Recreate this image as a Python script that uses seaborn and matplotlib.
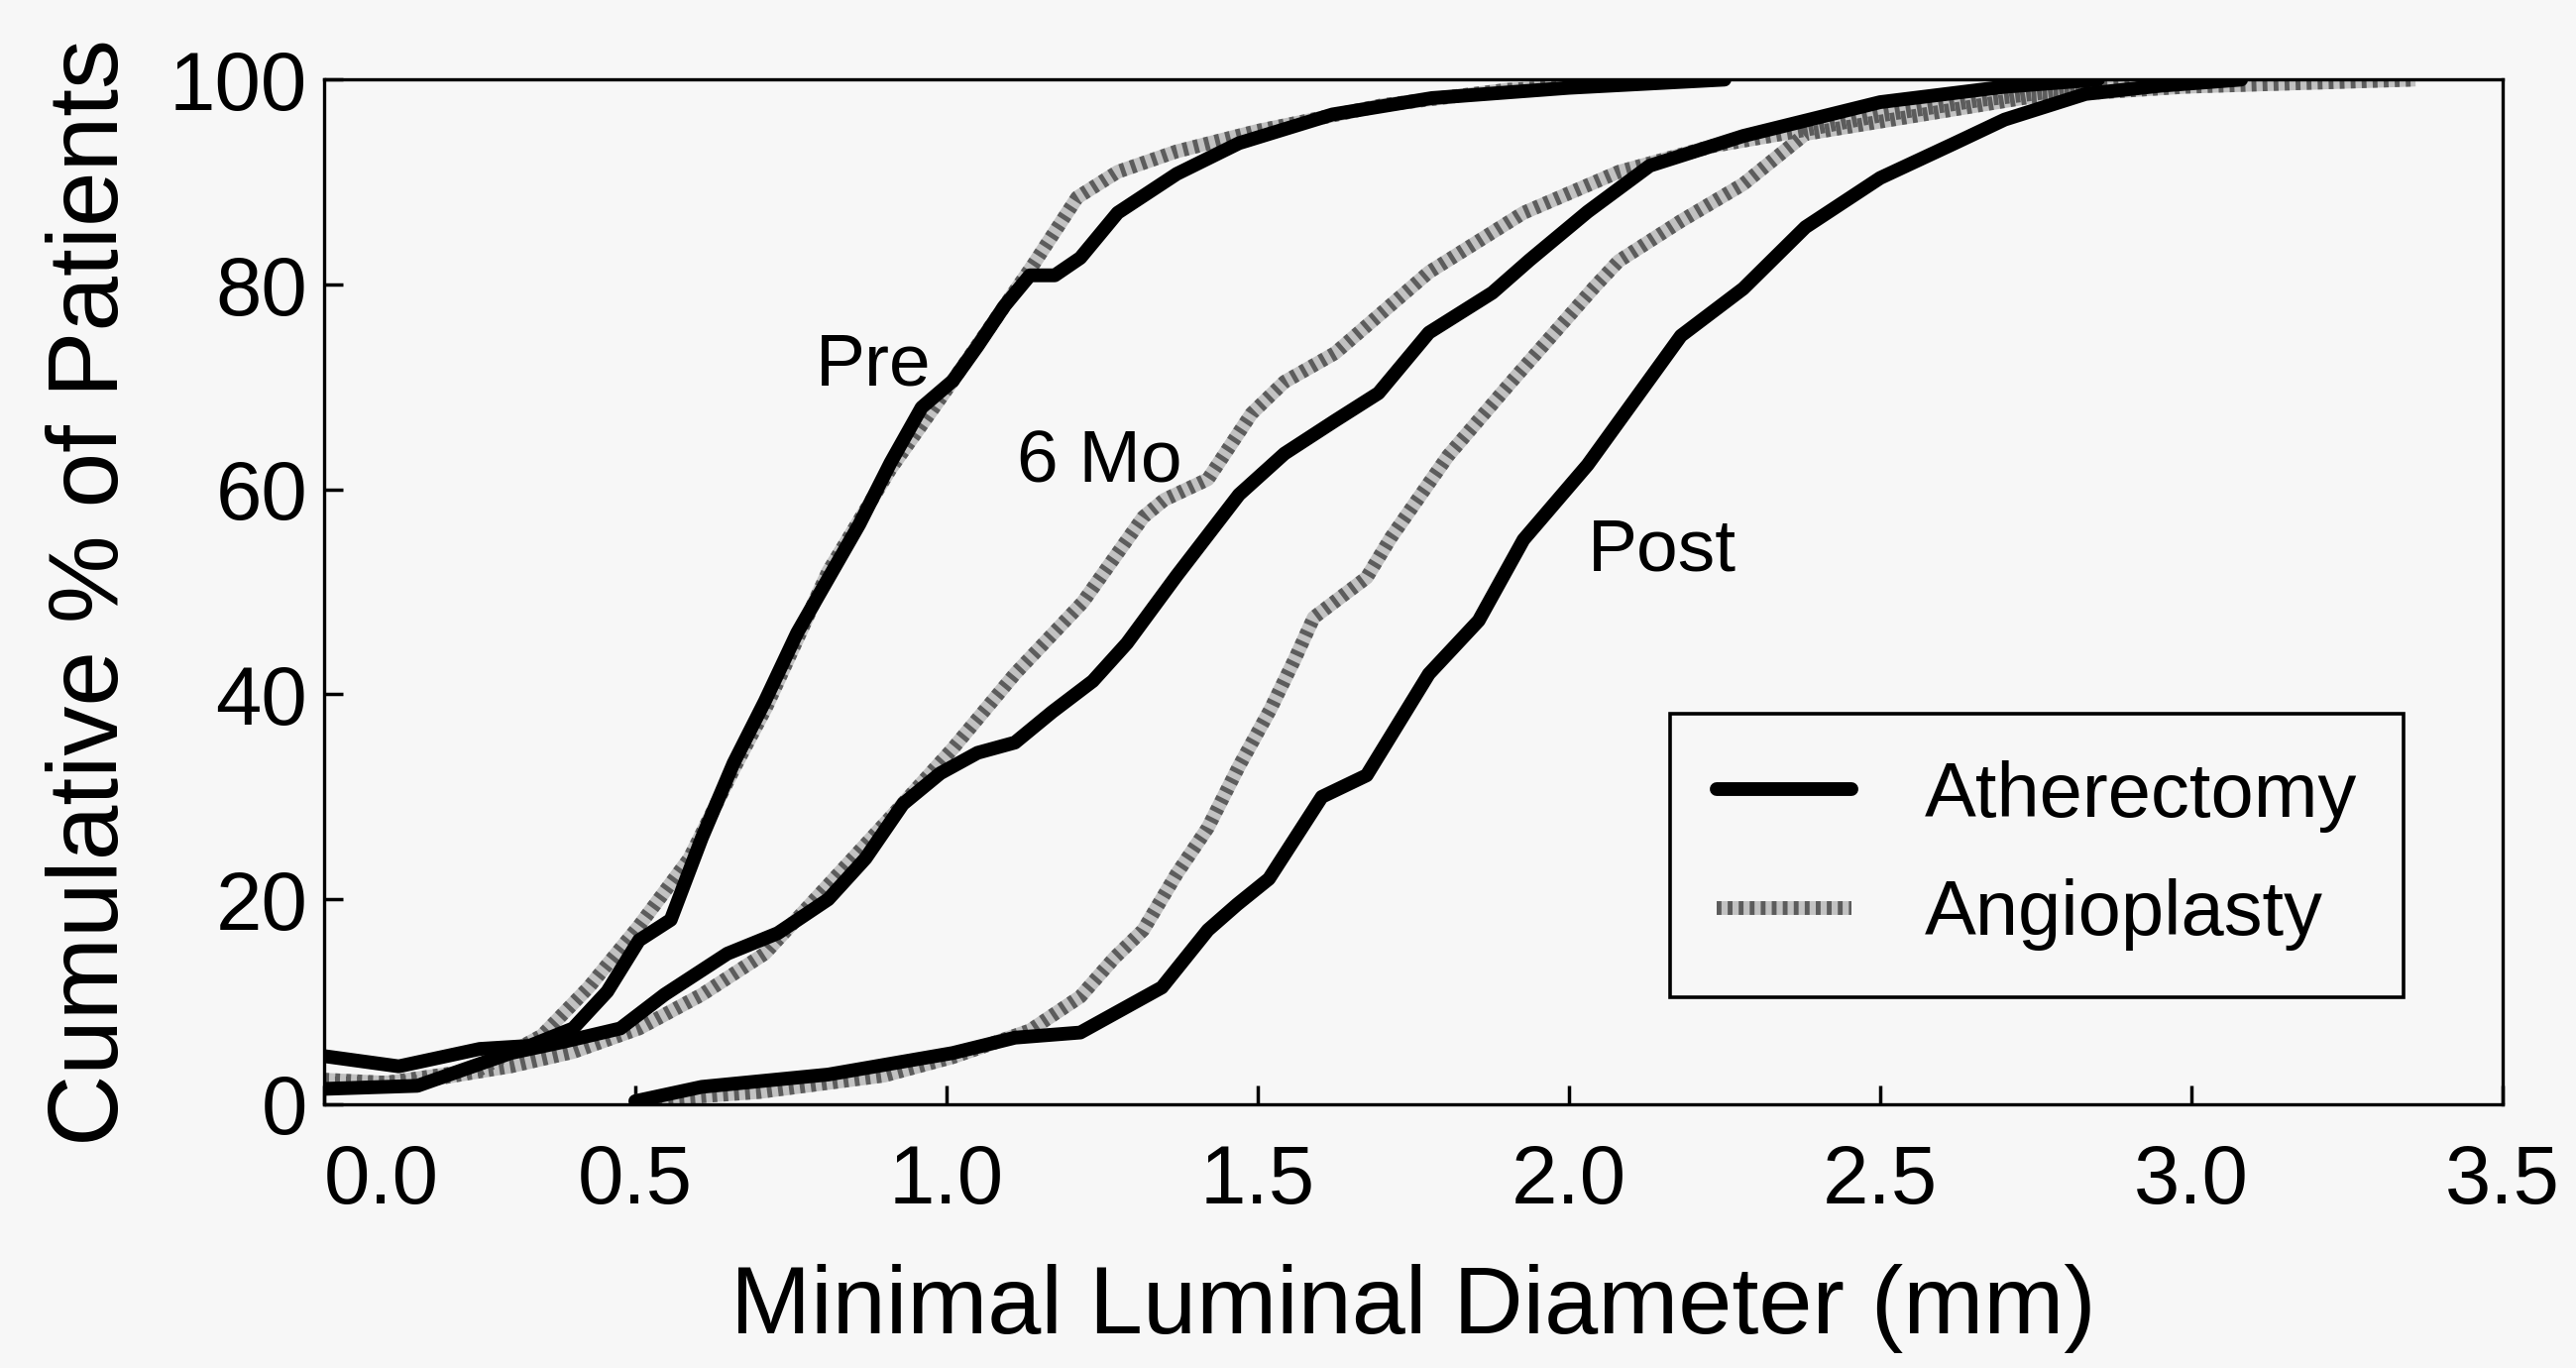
import pandas as pd
import matplotlib
matplotlib.use("Agg")
import matplotlib.pyplot as plt
import seaborn as sns
from matplotlib.lines import Line2D
from matplotlib.legend_handler import HandlerTuple

# cumulative distribution of minimal luminal diameter (mm) -> % of patients
pre_ath_x = [0.0, 0.12, 0.25, 0.33, 0.40, 0.455, 0.506, 0.557, 0.607, 0.658, 0.708, 0.76, 0.81,
             0.86, 0.91, 0.96, 1.01, 1.05, 1.093, 1.134, 1.174, 1.215, 1.275, 1.37, 1.47, 1.62,
             1.78, 2.0, 2.25]
pre_ath_y = [4.7, 3.7, 5.4, 5.7, 7.4, 11.0, 16.0, 18.0, 26.0, 33.3, 39.3, 46.0, 51.3,
             56.6, 62.6, 68.0, 70.6, 74.0, 77.9, 80.9, 80.9, 82.6, 87.0, 90.8, 93.8, 96.6,
             98.2, 99.2, 100.0]

pre_ang_x = [0.0, 0.1, 0.25, 0.35, 0.425, 0.506, 0.587, 0.658, 0.71, 0.81, 0.91, 1.01, 1.14,
             1.21, 1.275, 1.37, 1.5, 1.7, 1.9, 2.2]
pre_ang_y = [2.4, 2.1, 3.4, 6.7, 11.4, 17.4, 24.0, 32.7, 38.7, 52.0, 62.0, 70.6, 82.0,
             88.5, 91.0, 93.0, 95.0, 97.5, 99.0, 100.0]

mo6_ath_x = [0.0, 0.15, 0.3, 0.385, 0.476, 0.547, 0.648, 0.729, 0.81, 0.87, 0.93, 0.99, 1.05,
             1.11, 1.17, 1.235, 1.29, 1.37, 1.47, 1.543, 1.624, 1.694, 1.775, 1.877, 1.937,
             2.03, 2.13, 2.28, 2.38, 2.5, 2.7, 2.85]
mo6_ath_y = [1.5, 1.8, 5.0, 6.1, 7.4, 10.7, 14.7, 16.7, 20.0, 24.0, 29.3, 32.3, 34.3,
             35.3, 38.3, 41.3, 45.0, 51.6, 59.5, 63.5, 66.7, 69.4, 75.3, 79.2, 82.4,
             87.1, 91.6, 94.5, 96.0, 97.8, 99.3, 100.0]

mo6_ang_x = [0.0, 0.15, 0.3, 0.4, 0.506, 0.607, 0.708, 0.81, 0.91, 1.01, 1.11, 1.219, 1.316,
             1.35, 1.42, 1.49, 1.543, 1.624, 1.775, 1.927, 2.08, 2.23, 2.38, 2.5, 2.66, 2.83, 3.0]
mo6_ang_y = [2.0, 2.2, 3.7, 5.1, 7.4, 10.7, 14.7, 21.4, 28.0, 34.7, 42.0, 49.0, 57.3,
             59.0, 61.0, 67.4, 70.5, 73.3, 81.2, 87.0, 91.0, 93.5, 95.1, 96.5, 98.0, 99.2, 100.0]

post_ath_x = [0.5, 0.607, 0.81, 1.01, 1.11, 1.215, 1.346, 1.42, 1.467, 1.518, 1.603, 1.675,
              1.775, 1.855, 1.927, 2.03, 2.18, 2.28, 2.38, 2.5, 2.62, 2.7, 2.83, 2.95, 3.08]
post_ath_y = [0.3, 1.7, 2.9, 5.0, 6.5, 7.0, 11.4, 17.0, 19.5, 22.0, 30.0, 32.1,
              42.0, 47.2, 55.1, 62.4, 75.0, 79.6, 85.6, 90.4, 93.8, 96.1, 98.6, 99.4, 100.0]

post_ang_x = [0.5, 0.7, 0.9, 1.01, 1.134, 1.215, 1.27, 1.316, 1.37, 1.42, 1.47, 1.52, 1.56,
              1.59, 1.675, 1.714, 1.806, 1.906, 2.04, 2.08, 2.18, 2.28, 2.38, 2.58, 2.74, 2.99, 3.36]
post_ang_y = [0.3, 1.2, 2.8, 4.6, 7.2, 10.5, 14.3, 17.0, 22.5, 27.0, 33.0, 38.5, 43.5,
              47.5, 51.4, 55.3, 63.3, 70.4, 79.7, 82.3, 86.2, 89.8, 94.7, 96.7, 98.3, 99.3, 100.0]

x_ticks = [0.0, 0.5, 1.0, 1.5, 2.0, 2.5, 3.0, 3.5]
y_ticks = [0, 20, 40, 60, 80, 100]
curve_labels = ["Pre", "6 Mo", "Post"]
label_pos = [(0.79, 70.2), (1.113, 60.7), (2.03, 52.1)]
devices = ["Atherectomy", "Angioplasty"]

# long-form table, one curve per (device, time)
curves = {
    ("Atherectomy", "Pre"): (pre_ath_x, pre_ath_y),
    ("Angioplasty", "Pre"): (pre_ang_x, pre_ang_y),
    ("Atherectomy", "6 Mo"): (mo6_ath_x, mo6_ath_y),
    ("Angioplasty", "6 Mo"): (mo6_ang_x, mo6_ang_y),
    ("Atherectomy", "Post"): (post_ath_x, post_ath_y),
    ("Angioplasty", "Post"): (post_ang_x, post_ang_y),
}
rows = []
for (dev, t), (xs, ys) in curves.items():
    for xv, yv in zip(xs, ys):
        rows.append({"device": dev, "time": t, "mld": xv, "pct": yv})
df = pd.DataFrame(rows)

sns.set_theme(style="white")
plt.rcParams["font.family"] = ["Liberation Sans", "DejaVu Sans"]
plt.rcParams["xtick.bottom"] = True
plt.rcParams["ytick.left"] = True

bg = "#f7f7f7"
lw = 10
base_grey = "#c2c2c2"
stripe_grey = "#5c5c5c"
stripes = (0, (0.35, 0.45))

fig = plt.figure(figsize=(25.99, 13.80), dpi=100, facecolor=bg)
ax = fig.add_axes([0.1258, 0.1928, 0.8457, 0.749], facecolor=bg)

ang = df[df["device"] == "Angioplasty"]
ath = df[df["device"] == "Atherectomy"]

# angioplasty: light base + dark short dashes -> hatched look
sns.lineplot(data=ang, x="mld", y="pct", units="time", estimator=None, sort=False,
             color=base_grey, linewidth=lw, ax=ax, legend=False, solid_capstyle="butt")
sns.lineplot(data=ang, x="mld", y="pct", units="time", estimator=None, sort=False,
             color=stripe_grey, linewidth=lw, ax=ax, legend=False,
             dashes=False, linestyle=stripes, dash_capstyle="butt")
sns.lineplot(data=ath, x="mld", y="pct", units="time", estimator=None, sort=False,
             color="black", linewidth=lw, ax=ax, legend=False)

for lab, (lx, ly) in zip(curve_labels, label_pos):
    ax.text(lx, ly, lab, fontsize=54, ha="left", va="baseline", color="black")

ax.set_xlim(0, 3.5)
ax.set_ylim(0, 100)
ax.set_xticks(x_ticks)
ax.set_xticklabels([f"{v:.1f}" for v in x_ticks])
ax.set_yticks(y_ticks)
ax.set_yticklabels([str(v) for v in y_ticks])
ax.get_xticklabels()[0].set_horizontalalignment("left")
ax.tick_params(bottom=True, left=True, direction="in", length=14, width=2.5,
               labelsize=60, colors="black", zorder=5)
ax.tick_params(axis="x", pad=28)
ax.tick_params(axis="y", pad=12)
for s in ax.spines.values():
    s.set_visible(True)
    s.set_color("black")
    s.set_linewidth(2.4)

ax.set_xlabel("Minimal Luminal Diameter (mm)", fontsize=70, labelpad=32, color="black")
ax.set_ylabel("Cumulative % of Patients", fontsize=72, labelpad=22, color="black")

h_ath = Line2D([], [], color="black", linewidth=lw)
h_ang = (Line2D([], [], color=base_grey, linewidth=lw, solid_capstyle="butt"),
         Line2D([], [], color=stripe_grey, linewidth=lw, linestyle=stripes,
                dash_capstyle="butt"))
leg = ax.legend([h_ath, h_ang], devices, handler_map={tuple: HandlerTuple(ndivide=1, pad=0)},
                loc="lower left", bbox_to_anchor=(0.618, 0.1045), fontsize=56,
                handlelength=1.75, handletextpad=0.95, labelspacing=0.6, borderpad=0.6,
                borderaxespad=0, frameon=True, fancybox=False, facecolor=bg, edgecolor="black",
                framealpha=1)
leg.get_frame().set_linewidth(2.6)
for t in leg.get_texts():
    t.set_color("black")

fig.savefig("out.png", dpi=100, facecolor=bg)
